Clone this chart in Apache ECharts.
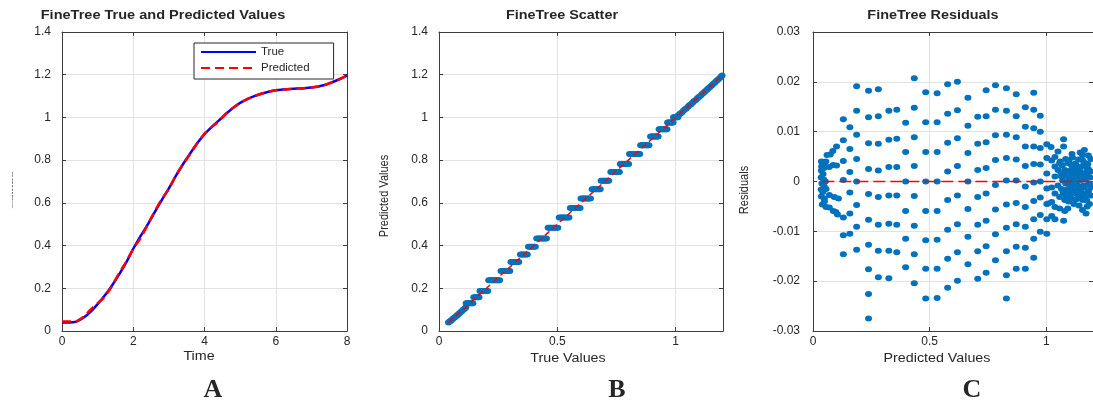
<!DOCTYPE html>
<html><head><meta charset="utf-8">
<script src="https://cdn.jsdelivr.net/npm/echarts@6/dist/echarts.min.js"></script>
<style>html,body{margin:0;padding:0;background:#fff}#c{width:1093px;height:403px}</style>
</head><body><div id="c"></div>
<script>
// ---------- Panel A: true vs predicted over time ----------
const timeA = [0,0.2,0.4,0.6,0.8,1.0,1.2,1.4,1.6,1.8,2.0,2.2,2.4,2.6,2.8,3.0,3.2,3.4,3.6,3.8,4.0,4.2,4.4,4.6,4.8,5.0,5.2,5.4,5.6,5.8,6.0,6.2,6.4,6.6,6.8,7.0,7.2,7.4,7.6,7.8,8.0];
const trueA = [0.040,0.040,0.044,0.062,0.090,0.126,0.166,0.212,0.264,0.320,0.385,0.443,0.497,0.556,0.613,0.668,0.727,0.782,0.832,0.880,0.922,0.955,0.985,1.016,1.044,1.068,1.086,1.100,1.111,1.120,1.127,1.131,1.133,1.135,1.137,1.140,1.145,1.153,1.166,1.180,1.196];
const predA = [0.044,0.044,0.044,0.065,0.100,0.130,0.158,0.210,0.270,0.323,0.385,0.433,0.495,0.560,0.618,0.664,0.730,0.782,0.829,0.880,0.925,0.955,0.980,1.018,1.045,1.068,1.086,1.100,1.112,1.120,1.127,1.131,1.133,1.135,1.137,1.140,1.145,1.153,1.166,1.180,1.196];
const legendNames = ['True','Predicted'];

// ---------- Panel B: scatter (true, predicted) ----------
const levelsB = [0.130,0.158,0.187,0.238,0.281,0.323,0.358,0.395,0.433,0.484,0.531,0.576,0.620,0.664,0.704,0.744,0.782,0.829,0.870,0.911,0.945,0.976,1.001];
const truesB = [
  [0.115,0.119,0.123,0.127,0.131,0.135,0.139,0.143],
  [0.147,0.152,0.156,0.160,0.165,0.169],
  [0.173,0.178,0.183,0.187,0.192,0.197,0.201,0.206],
  [0.210,0.215,0.220,0.226,0.231,0.236,0.241,0.246,0.251,0.256],
  [0.262,0.267,0.273,0.278,0.284,0.289,0.294,0.299],
  [0.304,0.309,0.315,0.320,0.326,0.332,0.337],
  [0.344,0.350,0.355,0.361,0.367,0.373],
  [0.378,0.384,0.389,0.395,0.401,0.407],
  [0.413,0.419,0.424,0.430,0.436,0.442,0.448,0.454],
  [0.461,0.467,0.472,0.478,0.484,0.490,0.496,0.502],
  [0.508,0.514,0.519,0.525,0.531,0.537,0.543,0.549],
  [0.555,0.561,0.566,0.572,0.578,0.584,0.590,0.596],
  [0.600,0.606,0.611,0.617,0.623,0.629,0.634,0.640],
  [0.647,0.653,0.658,0.664,0.669,0.675,0.681],
  [0.685,0.690,0.696,0.701,0.707,0.712,0.717],
  [0.726,0.731,0.736,0.741,0.747,0.752,0.757,0.762],
  [0.766,0.771,0.776,0.781,0.786,0.791,0.796,0.801],
  [0.805,0.810,0.815,0.820,0.825,0.829,0.834,0.838,0.843,0.848],
  [0.852,0.857,0.861,0.866,0.870,0.874,0.879,0.883,0.887],
  [0.894,0.898,0.902,0.906,0.910,0.914,0.918,0.922,0.926],
  [0.930,0.934,0.938,0.941,0.945,0.948,0.952,0.956,0.959,0.963],
  [0.966,0.969,0.973,0.976,0.979,0.983,0.986,0.989],
  [0.991,0.994,0.997,1.000,1.003,1.006,1.009]
];
const lowDiagB = [[0.040,0.040],[0.045,0.044],[0.050,0.048],[0.055,0.053],[0.060,0.058],[0.066,0.063],[0.072,0.069],[0.078,0.075],[0.084,0.081],[0.090,0.087],[0.096,0.093],[0.102,0.099],[0.108,0.104],[0.113,0.110]];
const highDiagB = [[1.005,1.003],[1.012,1.010],[1.018,1.017],[1.025,1.022],[1.032,1.030],[1.038,1.037],[1.045,1.042],[1.052,1.050],[1.058,1.057],[1.065,1.062],[1.072,1.070],[1.078,1.077],[1.085,1.082],[1.092,1.090],[1.098,1.096],[1.105,1.102],[1.112,1.110],[1.118,1.116],[1.125,1.122],[1.132,1.130],[1.138,1.136],[1.145,1.142],[1.152,1.150],[1.158,1.157],[1.165,1.162],[1.172,1.170],[1.178,1.177],[1.185,1.183],[1.192,1.190],[1.196,1.196]];
const refLineB = [[0.04,0.04],[1.196,1.196]];

// ---------- Panel C: residuals (predicted, residual) ----------
const residC = [
  [0.036,0.0040],[0.042,0.0034],[0.050,0.0030],[0.060,0.0053],[0.074,0.0054],[0.085,0.0061],[0.047,0.0027],[0.070,0.0029],[0.086,0.0033],[0.036,0.0022],[0.043,0.0015],[0.035,0.0008],[0.046,0.0004],[0.053,0.0000],[0.038,-0.0004],[0.048,-0.0010],[0.035,-0.0016],[0.056,-0.0015],[0.042,-0.0021],[0.036,-0.0030],[0.049,-0.0034],[0.070,-0.0027],[0.091,-0.0031],[0.109,-0.0034],[0.049,-0.0040],[0.056,-0.0051],[0.070,-0.0052],[0.087,-0.0059],[0.105,-0.0066],[0.040,-0.0046],[0.037,0.0030],[0.055,0.0040],
  [0.101,0.0070],[0.101,0.0032],[0.098,-0.0061],
  [0.130,0.0125],[0.130,0.0083],[0.130,0.0041],[0.130,0.0003],[0.130,-0.0072],[0.130,-0.0108],[0.130,-0.0146],
  [0.158,0.0109],[0.158,0.0065],[0.158,0.0019],[0.158,-0.0022],[0.158,-0.0064],[0.158,-0.0105],
  [0.187,0.0191],[0.187,0.0142],[0.187,0.0094],[0.187,0.0045],[0.187,0.0000],[0.187,-0.0047],[0.187,-0.0091],[0.187,-0.0137],
  [0.238,0.0182],[0.238,0.0129],[0.238,0.0077],[0.238,0.0025],[0.238,-0.0025],[0.238,-0.0077],[0.238,-0.0127],[0.238,-0.0176],[0.238,-0.0226],[0.238,-0.0275],
  [0.280,0.0185],[0.280,0.0131],[0.280,0.0076],[0.280,0.0022],[0.280,-0.0031],[0.280,-0.0087],[0.280,-0.0139],[0.280,-0.0192],
  [0.325,0.0142],[0.325,0.0084],[0.325,0.0029],[0.325,-0.0028],[0.325,-0.0085],[0.325,-0.0139],[0.325,-0.0194],
  [0.359,0.0144],[0.359,0.0086],[0.359,0.0029],[0.359,-0.0028],[0.359,-0.0087],[0.359,-0.0142],
  [0.397,0.0118],[0.397,0.0059],[0.397,0.0000],[0.397,-0.0059],[0.397,-0.0115],[0.397,-0.0172],
  [0.434,0.0207],[0.434,0.0148],[0.434,0.0089],[0.434,0.0031],[0.434,-0.0029],[0.434,-0.0089],[0.434,-0.0146],[0.434,-0.0204],
  [0.483,0.0179],[0.483,0.0119],[0.483,0.0059],[0.483,0.0000],[0.483,-0.0059],[0.483,-0.0118],[0.483,-0.0175],[0.483,-0.0235],
  [0.532,0.0177],[0.532,0.0119],[0.532,0.0059],[0.532,0.0000],[0.532,-0.0059],[0.532,-0.0117],[0.532,-0.0175],[0.532,-0.0234],
  [0.577,0.0195],[0.577,0.0136],[0.577,0.0078],[0.577,0.0020],[0.577,-0.0037],[0.577,-0.0097],[0.577,-0.0155],[0.577,-0.0213],
  [0.619,0.0200],[0.619,0.0143],[0.619,0.0087],[0.619,0.0031],[0.619,-0.0028],[0.619,-0.0086],[0.619,-0.0142],[0.619,-0.0199],
  [0.664,0.0168],[0.664,0.0112],[0.664,0.0057],[0.664,0.0000],[0.664,-0.0055],[0.664,-0.0111],[0.664,-0.0166],
  [0.706,0.0130],[0.706,0.0076],[0.706,0.0023],[0.706,-0.0031],[0.706,-0.0087],[0.706,-0.0140],[0.706,-0.0195],
  [0.742,0.0183],[0.742,0.0131],[0.742,0.0079],[0.742,0.0027],[0.742,-0.0024],[0.742,-0.0079],[0.742,-0.0130],[0.742,-0.0183],
  [0.782,0.0193],[0.782,0.0144],[0.782,0.0093],[0.782,0.0043],[0.782,-0.0007],[0.782,-0.0056],[0.782,-0.0106],[0.782,-0.0158],
  [0.829,0.0187],[0.829,0.0142],[0.829,0.0094],[0.829,0.0047],[0.829,0.0002],[0.829,-0.0046],[0.829,-0.0093],[0.829,-0.0140],[0.829,-0.0188],[0.829,-0.0235],
  [0.871,0.0175],[0.871,0.0131],[0.871,0.0089],[0.871,0.0044],[0.871,0.0002],[0.871,-0.0043],[0.871,-0.0086],[0.871,-0.0131],[0.871,-0.0175],
  [0.910,0.0149],[0.910,0.0110],[0.910,0.0070],[0.910,0.0031],[0.910,-0.0010],[0.910,-0.0051],[0.910,-0.0091],[0.910,-0.0133],[0.910,-0.0175],
  [0.946,0.0178],[0.946,0.0144],[0.946,0.0107],[0.946,0.0070],[0.946,0.0035],[0.946,-0.0002],[0.946,-0.0039],[0.946,-0.0076],[0.946,-0.0115],[0.946,-0.0153],
  [0.974,0.0132],[0.974,0.0100],[0.974,0.0067],[0.974,0.0034],[0.974,0.0000],[0.974,-0.0032],[0.974,-0.0067],[0.974,-0.0101],
  [1.002,0.0075],[1.002,0.0047],[1.002,0.0016],[1.002,-0.0014],[1.002,-0.0045],[1.002,-0.0076],[1.002,-0.0105],
  [1.020,0.0069],[1.050,0.0060],[1.074,0.0085],[1.074,0.0070],[1.037,0.0049],[1.023,0.0042],[1.057,0.0037],[1.092,0.0037],[1.107,0.0033],[1.037,0.0030],[1.050,0.0023],[1.079,0.0023],[1.107,0.0023],[1.134,0.0030],[1.155,0.0053],[1.163,0.0063],[1.155,0.0043],[1.170,0.0030],[1.037,0.0010],[1.065,0.0010],[1.090,0.0012],[1.120,0.0015],[1.145,0.0018],[1.175,0.0015],
  [1.023,-0.0012],[1.037,-0.0024],[1.057,-0.0031],[1.079,-0.0037],[1.107,-0.0034],[1.008,-0.0044],[1.023,-0.0041],[1.037,-0.0051],[1.057,-0.0054],[1.079,-0.0059],[1.092,-0.0054],[1.155,-0.0037],[1.155,-0.0057],[1.170,-0.0064],[1.023,-0.0069],[1.037,-0.0076],[1.074,-0.0079],
  [1.095,-0.0005],[1.110,-0.0010],[1.125,-0.0003],[1.140,-0.0015],[1.160,-0.0008],[1.180,-0.0020],[1.100,-0.0020],[1.130,-0.0025],[1.150,-0.0022],[1.170,0.0005],[1.185,-0.0005],[1.120,0.0005],[1.085,-0.0028],[1.065,-0.0015],[1.050,-0.0008],[1.140,0.0008],[1.165,-0.0030],[1.180,0.0025],[1.190,0.0045],[1.185,-0.0045],
  [1.060,0.0040],[1.068,0.0032],[1.083,0.0045],[1.097,0.0041],[1.112,0.0048],[1.125,0.0036],[1.138,0.0044],[1.150,0.0030],[1.162,0.0038],[1.178,0.0035],[1.190,0.0020],
  [1.062,0.0018],[1.075,0.0012],[1.088,0.0020],[1.102,0.0014],[1.115,0.0026],[1.128,0.0019],[1.142,0.0024],[1.158,0.0012],[1.172,0.0020],[1.188,0.0008],
  [1.070,0.0002],[1.083,-0.0004],[1.097,0.0004],[1.112,0.0000],[1.135,-0.0008],[1.148,0.0003],[1.163,-0.0012],[1.178,-0.0006],[1.192,-0.0012],
  [1.072,-0.0022],[1.088,-0.0016],[1.103,-0.0027],[1.117,-0.0018],[1.127,-0.0036],[1.143,-0.0030],[1.158,-0.0024],[1.173,-0.0038],[1.190,-0.0028],
  [1.095,-0.0040],[1.118,-0.0045],[1.140,-0.0048],[1.175,-0.0050],[1.110,0.0055],[1.145,0.0058],[1.180,0.0052]
];
const refLineC = [[0.04,0],[1.196,0]];

// ---------- texts ----------
const titles = ['FineTree True and Predicted Values','FineTree Scatter','FineTree Residuals'];
const xNames = ['Time','True Values','Predicted Values'];
const yNames = ['Values','Predicted Values','Residuals'];
const panelLetters = ['A','B','C'];

// ---------- build ----------
const FONT = "'Liberation Sans', Arial, Helvetica, sans-serif";
const AX = '#3c3c3c';
const GRIDC = '#e2e2e2';
const TXT = '#262626';

const pairsB = [];
levelsB.forEach((p, i) => truesB[i].forEach(t => pairsB.push([t, p])));
const scatterB = lowDiagB.concat(pairsB, highDiagB);
const lineA_true = timeA.map((t, i) => [t, trueA[i]]);
const lineA_pred = timeA.map((t, i) => [t, predA[i]]);

function xAx(g, min, max, interval, pos, label, margin) {
  return {
    type: 'value', gridIndex: g, min: min, max: max, interval: interval, position: pos,
    axisLine: { show: true, onZero: false, lineStyle: { color: AX, width: 1 } },
    axisTick: { show: true, inside: true, length: 4, lineStyle: { color: AX } },
    axisLabel: { show: label, color: TXT, fontSize: 12, fontFamily: FONT, margin: margin, showMaxLabel: Math.abs(max / interval - Math.round(max / interval)) < 1e-6 },
    splitLine: { show: label, lineStyle: { color: GRIDC, width: 1 } }
  };
}
function yAx(g, min, max, interval, pos, label, margin) {
  const a = xAx(g, min, max, interval, pos, label, margin);
  a.axisLabel.showMaxLabel = true;
  return a;
}

const grids = [
  { left: 62, top: 32, width: 285, height: 299 },
  { left: 439, top: 32, width: 284, height: 299 },
  { left: 813, top: 32, width: 286, height: 299 }
];

function txt(x, y, text, size, bold, sx, sy, rot, family) {
  return {
    type: 'text', x: x, y: y, rotation: rot || 0, scaleX: sx || 1, scaleY: sy || 1, silent: true,
    style: { text: text, font: (bold ? 'bold ' : '') + size + 'px ' + (family || FONT), fill: TXT,
      align: 'center', verticalAlign: 'middle', textAlign: 'center', textVerticalAlign: 'middle' }
  };
}

const option = {
  animation: false,
  backgroundColor: '#fff',
  grid: grids.map(g => Object.assign({ containLabel: false }, g)),
  xAxis: [
    xAx(0, 0, 8, 2, 'bottom', true, 5), xAx(0, 0, 8, 2, 'top', false, 5),
    xAx(1, 0, 1.2, 0.5, 'bottom', true, 5), xAx(1, 0, 1.2, 0.5, 'top', false, 5),
    xAx(2, 0, 1.2, 0.5, 'bottom', true, 5), xAx(2, 0, 1.2, 0.5, 'top', false, 5)
  ],
  yAxis: [
    yAx(0, 0, 1.4, 0.2, 'left', true, 11), yAx(0, 0, 1.4, 0.2, 'right', false, 11),
    yAx(1, 0, 1.4, 0.2, 'left', true, 11), yAx(1, 0, 1.4, 0.2, 'right', false, 11),
    yAx(2, -0.03, 0.03, 0.01, 'left', true, 13), yAx(2, -0.03, 0.03, 0.01, 'right', false, 13)
  ],
  legend: {
    data: legendNames, left: 194, top: 43, orient: 'vertical',
    itemWidth: 55, itemHeight: 12, itemGap: 4, padding: [3, 24, 5, 6],
    borderColor: '#262626', borderWidth: 1, borderRadius: 0, backgroundColor: '#fff',
    itemStyle: { opacity: 0 },
    textStyle: { color: TXT, fontSize: 11.5, fontFamily: FONT, padding: [0, 0, 0, 0] },
    selectedMode: false
  },
  series: [
    { name: 'True', type: 'line', xAxisIndex: 0, yAxisIndex: 0, data: lineA_true, symbol: 'none', smooth: 0.3,
      lineStyle: { color: '#0000ff', width: 2.5 }, itemStyle: { color: '#0000ff' } },
    { name: 'Predicted', type: 'line', xAxisIndex: 0, yAxisIndex: 0, data: lineA_pred, symbol: 'none',
      lineStyle: { color: '#ff0000', width: 2.5, type: [9, 5] }, itemStyle: { color: '#ff0000' } },
    { type: 'scatter', xAxisIndex: 2, yAxisIndex: 2, data: scatterB, symbol: 'circle', symbolSize: [7, 6],
      itemStyle: { color: '#0072BD', opacity: 1 } },
    { type: 'line', xAxisIndex: 2, yAxisIndex: 2, data: refLineB, symbol: 'none',
      lineStyle: { color: '#ff0000', width: 1.5, type: [6, 4] } },
    { type: 'line', xAxisIndex: 4, yAxisIndex: 4, data: refLineC, symbol: 'none',
      lineStyle: { color: '#ff0000', width: 1.5, type: [12, 5] } },
    { type: 'scatter', xAxisIndex: 4, yAxisIndex: 4, data: residC, symbol: 'circle', symbolSize: [7, 6],
      itemStyle: { color: '#0072BD', opacity: 1 } }
  ],
  graphic: [
    txt(163, 16, titles[0], 12, true, 1.21, 1),
    txt(562, 16, titles[1], 12, true, 1.2, 1),
    txt(933, 16, titles[2], 12, true, 1.2, 1),
    txt(199, 357, xNames[0], 12, false, 1.19, 1),
    txt(568, 359, xNames[1], 12, false, 1.19, 1),
    txt(937, 359, xNames[2], 12, false, 1.19, 1),
    txt(12.5, 190, yNames[0], 6, false, 2.1, 0.4, Math.PI / 2),
    txt(385, 196, yNames[1], 11, false, 1, 1.15, Math.PI / 2),
    txt(745, 190, yNames[2], 11, false, 1, 1.15, Math.PI / 2),
    txt(213, 390, panelLetters[0], 26, true, 1, 1, 0, "'Liberation Serif', 'Times New Roman', serif"),
    txt(617, 390, panelLetters[1], 26, true, 1, 1, 0, "'Liberation Serif', 'Times New Roman', serif"),
    txt(972, 390, panelLetters[2], 26, true, 1, 1, 0, "'Liberation Serif', 'Times New Roman', serif")
  ]
};

const chart = echarts.init(document.getElementById('c'), null, { renderer: 'canvas', width: 1093, height: 403 });
chart.setOption(option);
</script>
</body></html>
